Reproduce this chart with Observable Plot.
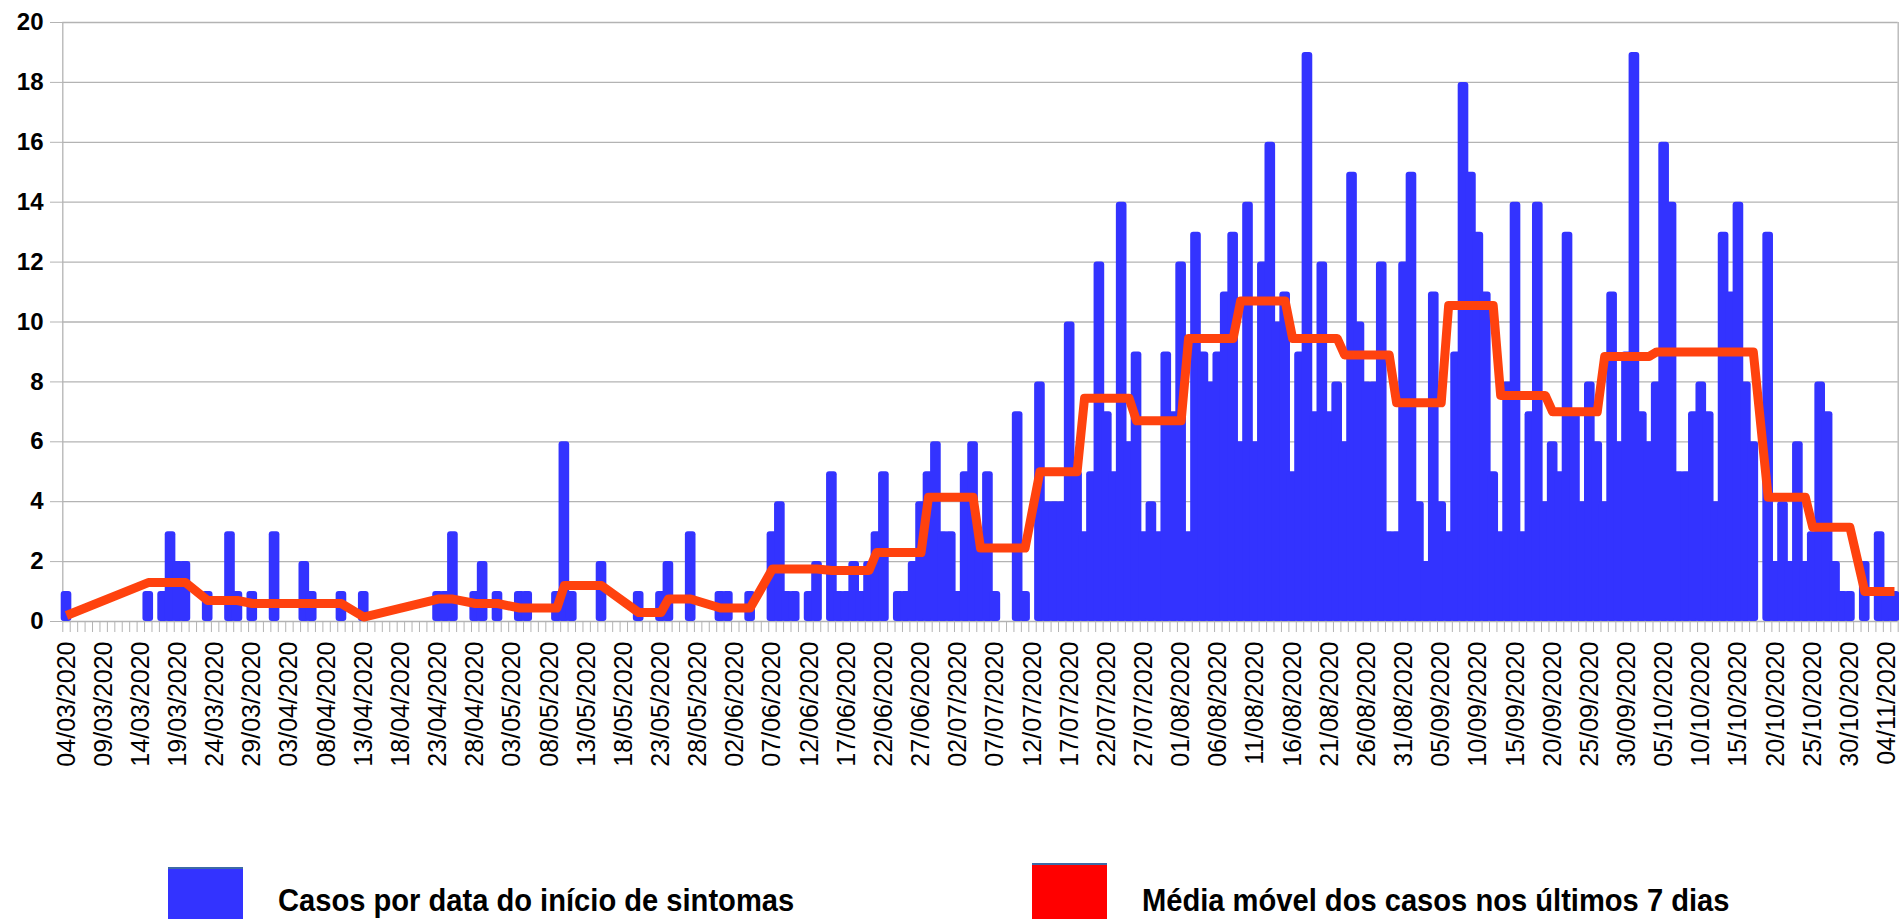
<!DOCTYPE html>
<html><head><meta charset="utf-8">
<script src="https://cdn.jsdelivr.net/npm/d3@7"></script>
<script src="https://cdn.jsdelivr.net/npm/@observablehq/plot@0.6"></script>
<style>
html,body{margin:0;padding:0;background:#fff;overflow:hidden;width:1899px;height:919px;}
#chart{position:absolute;left:0;top:0;}
.leg{position:absolute;font-family:"Liberation Sans",Arial,sans-serif;font-weight:bold;font-size:32px;color:#000;white-space:nowrap;transform:scaleX(0.91);transform-origin:0 0;}
.box{position:absolute;width:75px;height:80px;border-top:2px solid #3d6aa6;box-sizing:border-box;}
</style></head><body>
<div id="chart"></div>
<div class="box" style="left:168px;top:867px;background:#3333ff"></div>
<div class="leg" style="left:278px;top:882px">Casos por data do início de sintomas</div>
<div class="box" style="left:1032px;top:863px;background:#ff0000"></div>
<div class="leg" style="left:1142px;top:882px">Média móvel dos casos nos últimos 7 dias</div>
<script>
// Daily cases by symptom onset date, from 04/03/2020 (index 0) to 05/11/2020
const cases = [
  1,0,0,0,0,0,0,0,0,0,
  0,1,0,1,3,2,2,0,0,1,
  0,0,3,1,0,1,0,0,3,0,
  0,0,2,1,0,0,0,1,0,0,
  1,0,0,0,0,0,0,0,0,0,
  1,1,3,0,0,1,2,0,1,0,
  0,1,1,0,0,0,1,6,1,0,
  0,0,2,0,0,0,0,1,0,0,
  1,2,0,0,3,0,0,0,1,1,
  0,0,1,0,0,3,4,1,1,0,
  1,2,0,5,1,1,2,1,2,3,
  5,0,1,1,2,4,5,6,3,3,
  1,5,6,3,5,1,0,0,7,1,
  0,8,4,4,4,10,5,3,5,12,
  7,5,14,6,9,3,4,3,9,7,
  12,3,13,9,8,9,11,13,6,14,
  6,12,16,10,11,5,9,19,7,12,
  7,8,6,15,10,8,8,12,3,3,
  12,15,4,2,11,4,3,9,18,15,
  13,11,5,3,8,14,3,7,14,4,
  6,5,13,7,4,8,6,4,11,6,
  9,19,7,6,8,16,14,5,5,7,
  8,7,4,13,11,14,8,6,0,13,
  2,4,2,6,2,3,8,7,2,1,
  1,0,2,0,3,1,1
];
// 7-day moving average, one value per Sunday–Saturday week (week 0 contains 04/03/2020)
const maWeekly = [
  0.2, null, 1.3, 0.7, 0.6, 0.6, 0.15, 0.75, 0.6, 0.45,
  1.2, 0.3, 0.75, 0.45, 1.75, 1.7, 2.3, 4.15, 2.45, 5.0,
  7.45, 6.7, 9.45, 10.7, 9.45, 8.9, 7.3, 10.55, 7.55, 7.0,
  8.85, 9.0, 9.0, 4.15, 3.15, 1.0
];
const yTicks = [0, 2, 4, 6, 8, 10, 12, 14, 16, 18, 20];
const startDate = new Date(Date.UTC(2020, 2, 4));
const fmt = d3.utcFormat("%d/%m/%Y");
const dates = cases.map((_, i) => fmt(d3.utcDay.offset(startDate, i)));
const labelIdx = d3.range(0, cases.length, 5);

const data = cases.map((v, i) => ({i, date: dates[i], cases: v}));
const weekOf = i => d3.utcSunday.count(d3.utcSunday.floor(startDate), d3.utcDay.offset(startDate, i));
const maPoints = data
  .filter(d => d.cases > 0 && maWeekly[weekOf(d.i)] != null)
  .map(d => ({i: d.i, ma: maWeekly[weekOf(d.i)]}));

const n = cases.length;
const chart = Plot.plot({
  width: 1899, height: 800,
  marginLeft: 62.3, marginRight: 1.3, marginTop: 22, marginBottom: 179,
  style: {fontFamily: "'Liberation Sans', Arial, sans-serif", background: "white", overflow: "visible"},
  x: {type: "linear", domain: [-0.5, n - 0.5], axis: null, label: null},
  y: {domain: [0, 20], axis: null, label: null},
  marks: [
    Plot.gridY({ticks: yTicks, stroke: "#b3b3b3", strokeOpacity: 1, strokeWidth: 1.3}),
    Plot.ruleX([-0.5, n - 0.5], {stroke: "#b3b3b3", strokeWidth: 1.3}),
    Plot.rectY(data.filter(d => d.cases > 0), {
      x1: d => d.i - 0.5, x2: d => d.i + 0.5, y: "cases",
      insetLeft: -1.6, insetRight: -1.6, rx: 3, fill: "#3333ff"
    }),
    Plot.line(maPoints, {x: "i", y: "ma", stroke: "#ff420e", strokeWidth: 9, strokeLinejoin: "round", strokeLinecap: "butt"}),
    Plot.axisY({ticks: yTicks, label: null, tickSize: 12.3, tickPadding: 7, fontSize: 24, fontWeight: "bold", stroke: "#b3b3b3", fill: "black"}),
    Plot.axisX({ticks: d3.range(n + 1).map(i => i - 0.5), label: null, tickSize: 11, tickFormat: () => "", stroke: "#b3b3b3"}),
    Plot.axisX({ticks: labelIdx, label: null, tickSize: 0, tickPadding: 20, tickRotate: -90, tickFormat: i => dates[i], fontSize: 25, fill: "black"})
  ]
});
document.getElementById("chart").appendChild(chart);
</script>
</body></html>
